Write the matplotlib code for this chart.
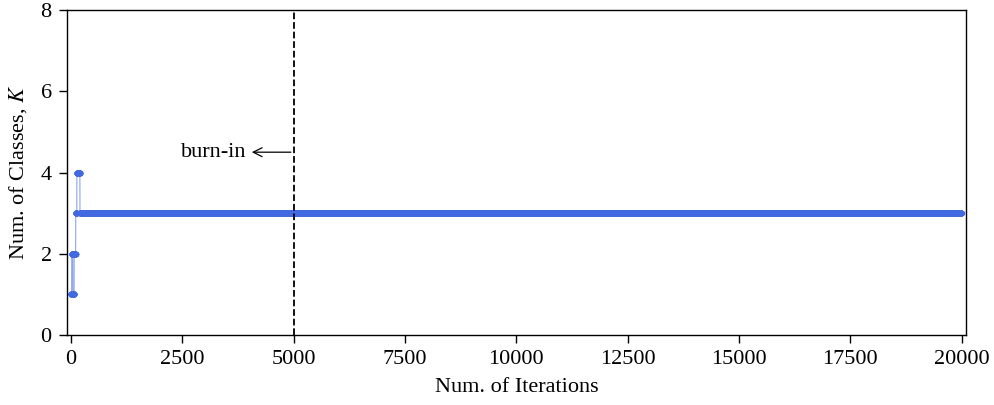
import numpy as np
import matplotlib.pyplot as plt

plt.rcParams['font.family'] = ['Liberation Serif', 'DejaVu Serif']
plt.rcParams['mathtext.fontset'] = 'stix'

# sampled number of classes: value held from each start iteration on
n_iter = 20000
seg_start = [0, 15, 40, 70, 105, 130, 200]
seg_value = [1, 2, 1, 2, 3, 4, 3]
burn_in = 5000

starts = np.array(seg_start + [n_iter])
k_trace = np.repeat(seg_value, np.diff(starts))
iters = np.arange(n_iter)

fig = plt.figure(figsize=(9.95, 4.05), dpi=100)
ax = fig.add_axes([67 / 995, 70 / 405, 899 / 995, 325 / 405])

ax.plot(iters, k_trace, '-', color='royalblue', lw=0.8, alpha=0.6)
ax.plot(iters, k_trace, 'o', color='royalblue', ms=4, mew=0)
ax.axvline(burn_in, color='black', ls='--', lw=1.3)
ax.annotate('burn-in', xy=(burn_in, 4.5), xytext=(3200, 4.5),
            ha='center', va='center', fontsize=16,
            arrowprops=dict(arrowstyle='<-', color='black', lw=0.9))

ax.set_xlim(-90, 20100)
ax.set_ylim(0, 8)
ax.set_xticks(np.arange(0, 20001, 2500))
ax.set_yticks([0, 2, 4, 6, 8])
ax.tick_params(labelsize=16, length=6, width=1, pad=5)
for s in ax.spines.values():
    s.set_linewidth(1)
ax.set_xlabel('Num. of Iterations', fontsize=16, labelpad=6)
ax.set_ylabel('Num. of Classes, $K$', fontsize=16, labelpad=8)

plt.savefig('out.png')
plt.close()
